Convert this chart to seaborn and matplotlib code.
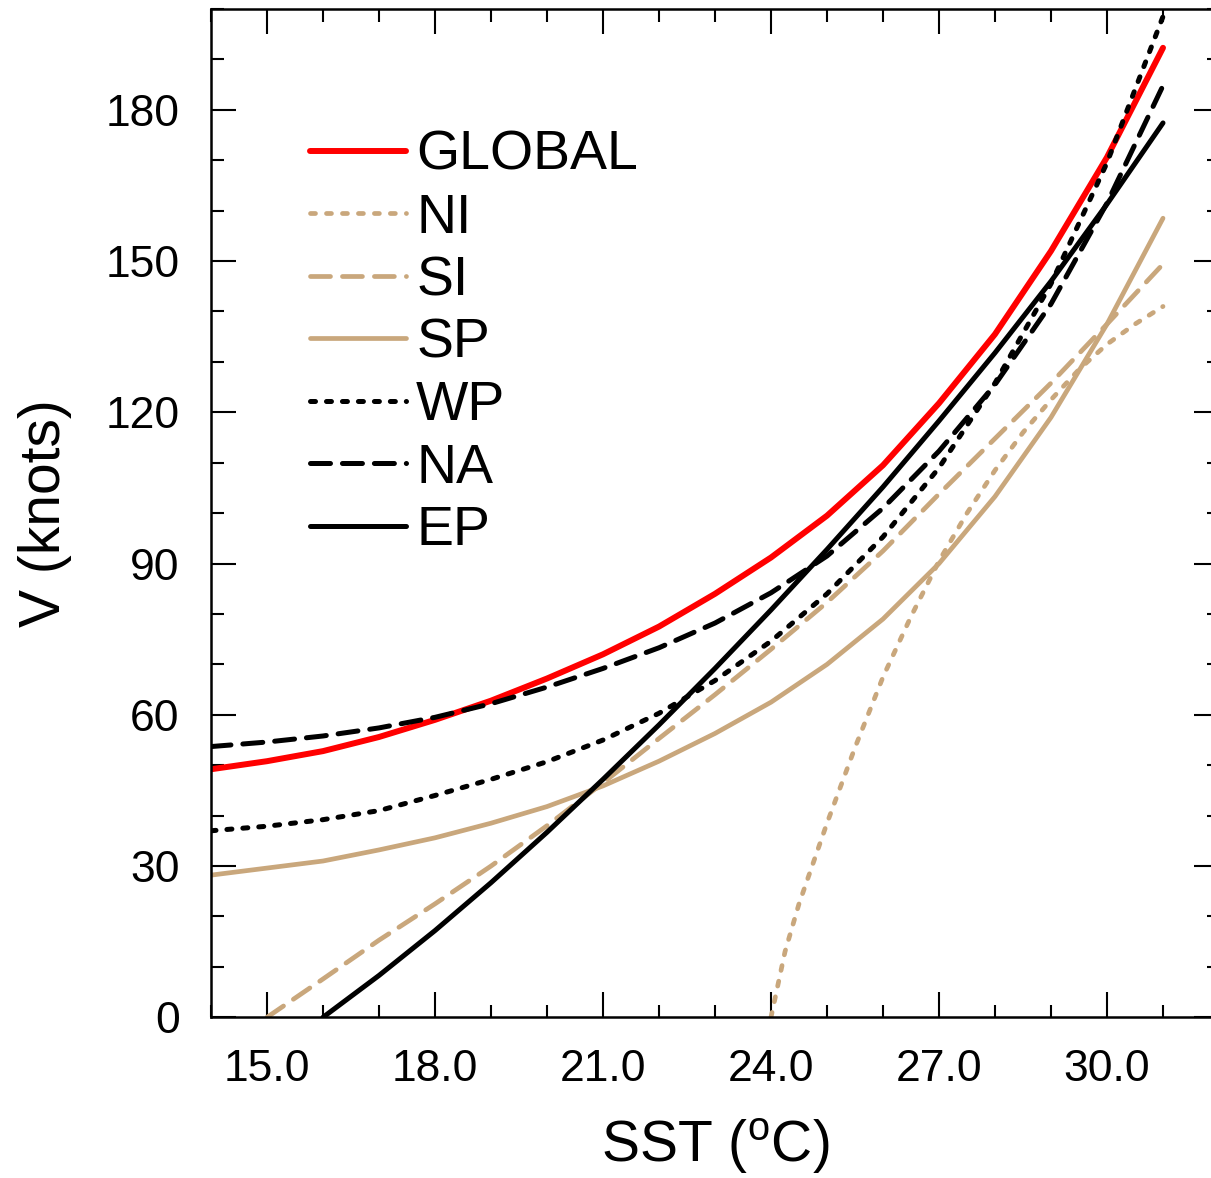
import matplotlib
matplotlib.use("Agg")
import matplotlib.pyplot as plt
import seaborn as sns
from matplotlib.ticker import MultipleLocator, FormatStrFormatter

# ---------------- data ----------------
sst = [14, 15, 16, 17, 18, 19, 20, 21, 22, 23, 24, 25, 26, 27, 28, 29, 30, 31]
v_global = [49.2, 50.8, 52.8, 55.6, 59.0, 62.8, 67.2, 72.0, 77.5, 84.0, 91.2,
            99.5, 109.5, 121.8, 135.5, 152.0, 170.6, 192.3]
v_sp = [28.2, 29.6, 31.0, 33.2, 35.6, 38.5, 41.8, 45.9, 50.8, 56.3, 62.5,
        70.0, 79.0, 90.0, 103.3, 119.0, 137.5, 158.5]
v_wp = [37.0, 37.9, 39.2, 41.0, 44.0, 47.2, 50.7, 55.0, 60.3, 66.8, 74.6,
        84.0, 95.3, 109.0, 125.8, 145.5, 169.5, 198.5]
v_na = [53.7, 54.6, 55.8, 57.4, 59.5, 62.2, 65.5, 69.2, 73.3, 78.2, 84.2,
        91.5, 101.0, 112.3, 125.5, 141.5, 161.5, 184.8]
sst_si = [15, 16, 17, 18, 19, 20, 21, 22, 23, 24, 25, 26, 27, 28, 29, 30, 31]
v_si = [0.0, 7.6, 15.3, 22.5, 30.0, 38.0, 46.5, 55.3, 64.0, 73.0, 82.3,
        92.5, 103.8, 114.8, 125.8, 137.5, 149.4]
sst_ep = [16, 17, 18, 19, 20, 21, 22, 23, 24, 25, 26, 27, 28, 29, 30, 31]
v_ep = [0.0, 8.3, 17.2, 26.7, 36.7, 47.2, 58.0, 69.2, 80.8, 92.8, 105.2,
        118.3, 131.8, 146.0, 161.3, 177.4]
sst_ni = [24.0, 24.25, 24.5, 24.75, 25.0, 25.5, 26.0, 26.5, 27.0, 27.5, 28.0,
          28.5, 29.0, 29.5, 30.0, 30.5, 31.0]
v_ni = [0.0, 13.0, 22.5, 30.5, 38.5, 53.5, 67.5, 79.5, 90.5, 100.0, 108.5,
        116.0, 122.5, 128.5, 133.5, 137.5, 141.0]

x_ticks = [15, 18, 21, 24, 27, 30]
y_ticks = [0, 30, 60, 90, 120, 150, 180]

# ---------------- style ----------------
sns.set_style("white")
plt.rcParams["font.family"] = ["Liberation Sans", "DejaVu Sans"]
plt.rcParams["mathtext.fontset"] = "custom"
plt.rcParams["mathtext.rm"] = "Liberation Sans"
plt.rcParams["mathtext.it"] = "Liberation Sans"
plt.rcParams["lines.scale_dashes"] = False
for k in ["text.color", "axes.labelcolor", "xtick.color", "ytick.color", "axes.edgecolor"]:
    plt.rcParams[k] = "black"

RED = "#FF0000"
TAN = "#C9A77C"
BLACK = "#000000"
DOT = (0, (3.6, 7.9))
DASH = (0, (14.4, 8.6))

fig = plt.figure(figsize=(12.11, 11.78), dpi=100)
ax = fig.add_axes([211 / 1211, (1178 - 1017.3) / 1178, 1008 / 1211, 1008.3 / 1178])

series = [
    ("GLOBAL", sst, v_global, RED, "-", 4.3),
    ("NI", sst_ni, v_ni, TAN, DOT, 3.4),
    ("SI", sst_si, v_si, TAN, DASH, 3.4),
    ("SP", sst, v_sp, TAN, "-", 3.4),
    ("WP", sst, v_wp, BLACK, DOT, 3.6),
    ("NA", sst, v_na, BLACK, DASH, 3.6),
    ("EP", sst_ep, v_ep, BLACK, "-", 3.6),
]
for name, xs, ys, col, ls, lw in series:
    sns.lineplot(x=xs, y=ys, ax=ax, color=col, linewidth=lw, label=name,
                 linestyle=ls, dash_capstyle="round", solid_capstyle="round",
                 solid_joinstyle="round", sort=False, estimator=None)

ax.set_xlim(14, 32)
ax.set_ylim(0, 200)
ax.xaxis.set_minor_locator(MultipleLocator(1))
ax.yaxis.set_minor_locator(MultipleLocator(10))
ax.set_xticks(x_ticks)
ax.set_yticks(y_ticks)
ax.xaxis.set_major_formatter(FormatStrFormatter("%.1f"))
ax.yaxis.set_major_formatter(FormatStrFormatter("%d"))

ax.tick_params(which="both", direction="in", top=True, right=True,
               bottom=True, left=True, width=1.5, color="black")
ax.tick_params(which="major", length=18)
ax.tick_params(which="minor", length=9)
ax.tick_params(axis="x", which="major", labelsize=32, pad=23)
ax.tick_params(axis="y", which="major", labelsize=32, pad=22.5)
for s in ax.spines.values():
    s.set_linewidth(1.8)
    s.set_color("black")

ax.set_xlabel("SST ($^{\\mathrm{o}}$C)", fontsize=41, labelpad=19)
ax.set_ylabel("V (knots)", fontsize=41, labelpad=24)

leg = ax.legend(loc="upper left",
                bbox_to_anchor=((310 - 211) / 1008, (1017.3 - 130) / 1008.3),
                frameon=False, fontsize=40, handlelength=1.73, handletextpad=0.18,
                labelspacing=0.19, borderpad=0, borderaxespad=0)

fig.savefig("out.png", dpi=100)
